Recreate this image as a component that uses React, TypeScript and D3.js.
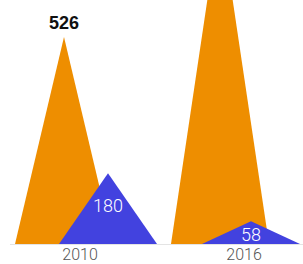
import React from "react";
import * as d3 from "d3";

const categories = ["2010", "2016"];
const orangeValues = [526, 836];
const blueValues = [180, 58];

const W = 303;
const H = 264;

export default function App() {
  const y = d3.scaleLinear().domain([0, 620]).range([244, 0]);
  const xOrange = d3.scalePoint<string>().domain(categories).range([64, 220]);
  const xBlue = d3.scalePoint<string>().domain(categories).range([108, 251]);
  const xAxis = d3.scalePoint<string>().domain(categories).range([80, 244]);
  const baseW = 98;
  const y0 = y(0);

  const tri = (cx: number, v: number) => {
    const p = d3.path();
    p.moveTo(cx - baseW / 2, y0);
    p.lineTo(cx, y(v));
    p.lineTo(cx + baseW / 2, y0);
    p.closePath();
    return p.toString();
  };

  return (
    <svg
      width={W}
      height={H}
      style={{ position: "absolute", left: 0, top: 0, display: "block", background: "#fff" }}
    >
      <line x1={10} x2={303} y1={y0 + 0.5} y2={y0 + 0.5} stroke="#e4e4e4" strokeWidth={1} />
      {categories.map((c, i) => (
        <path key={"o" + c} d={tri(xOrange(c)!, orangeValues[i])} fill="#EE8E00" />
      ))}
      {categories.map((c, i) =>
        y(orangeValues[i]) - 8 > 18 ? (
          <text
            key={"ol" + c}
            x={xOrange(c)!}
            y={y(orangeValues[i]) - 8}
            textAnchor="middle"
            fontFamily="'Liberation Sans', Arial, sans-serif"
            fontWeight="bold"
            fontSize={18}
            fill="#111"
          >
            {orangeValues[i]}
          </text>
        ) : null
      )}
      {categories.map((c, i) => (
        <path key={"b" + c} d={tri(xBlue(c)!, blueValues[i])} fill="#4242DF" />
      ))}
      {categories.map((c, i) => (
        <text
          key={"bl" + c}
          x={xBlue(c)!}
          y={i === 0 ? y(blueValues[i]) + 39 : y(blueValues[i]) + 20}
          textAnchor="middle"
          fontFamily="Roboto, sans-serif"
          fontWeight={300}
          fontSize={18}
          fill="#fff"
        >
          {blueValues[i]}
        </text>
      ))}
      {categories.map((c) => (
        <text
          key={"ax" + c}
          x={xAxis(c)!}
          y={260}
          textAnchor="middle"
          fontFamily="Roboto, sans-serif"
          fontWeight={300}
          fontSize={16}
          fill="#555"
        >
          {c}
        </text>
      ))}
    </svg>
  );
}
